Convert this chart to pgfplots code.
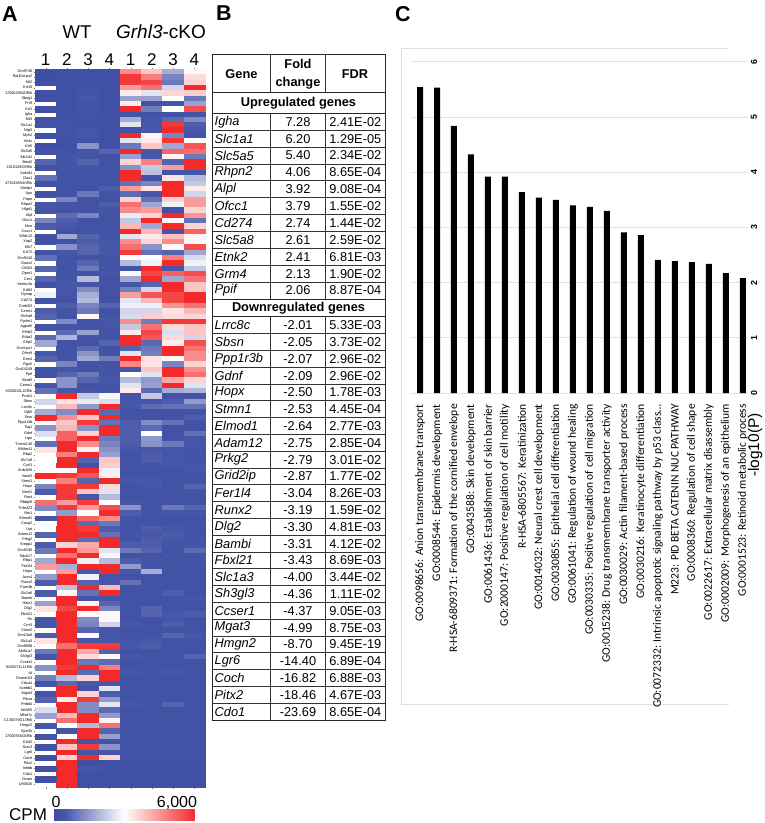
\documentclass[border=0pt]{standalone}
\usepackage{fontspec}
\setmainfont{Liberation Sans}
\newfontfamily\calibri{Carlito}
\usepackage{pgfplots}
\pgfplotsset{compat=1.18}
\pgfplotsset{colormap={cpm}{rgb255(0)=(60,78,163) rgb255(5)=(70,86,168) rgb255(30)=(255,255,255) rgb255(60)=(244,42,42)}}
\newcommand{\fs}[1]{\fontsize{#1}{#1}\selectfont}
\begin{document}
\begin{tikzpicture}[x=1pt,y=-1pt]
\path[use as bounding box] (0,0) rectangle (765,823);

% panel letters
\node[anchor=base west,inner sep=0pt,font=\fs{21.5}\bfseries] at (2,21) {A};
\node[anchor=base west,inner sep=0pt,font=\fs{21.5}\bfseries] at (216,20) {B};
\node[anchor=base west,inner sep=0pt,font=\fs{21.5}\bfseries] at (395,21) {C};

% panel A: heatmap, values in hundreds of CPM
\node[anchor=base,inner sep=0pt,font=\fs{18.5}] at (77,38) {WT};
\node[anchor=base,inner sep=0pt,font=\fs{19}] at (161,38) {\textit{Grhl3}-cKO};
\begin{axis}[
    at={(35pt,-787pt)},
    anchor=south west,
    scale only axis,
    width=170pt,
    height=718pt,
    xmin=-0.5, xmax=7.5,
    ymin=-0.5, ymax=134.5,
    y dir=reverse,
    colormap name=cpm,
    point meta min=0, point meta max=60,
    axis line style={draw=none},
    tick align=outside,
    major tick length=1.5pt,
    xtick={0,...,7},
    xticklabels={1,2,3,4,1,2,3,4},
    xticklabel pos=top,
    xticklabel style={font=\fs{17},inner sep=2pt},
    ytick={0,...,134},
    yticklabel style={font=\fs{3.8},inner sep=1pt},
    yticklabels={Gm9740,Rpl10a-ps2,Mt2,Krt10,1700029N20Rik,Sbsg1,Prr9,Krt1,Igha,Mt3,Slc1a1,Nrg3,Myh2,Xlr4c,Krt5,Slc5a5,Akr1d1,Best2,2010109I03Rik,Ankrd1,Oas1,4732456N10Rik,Morlp1,Upx,Papn,Rhpn2,Hlgd1,Alpl,Ofcc1,Mxn,Cxxc1,Wfdc12,Xirp2,Klk7,Krt72,Gm9416,Duox2,Chi3l4,Dpm1,Cer1,Serinc3a,Krt84,Dynap,Cd274,Creb3l3,Cerm1,Slc5a8,Pydrn1,Agpat5,Efnb2,Edar2,Sfrp2,Gm4-ps1,Dhrs9,Grm4,Rgs5,Gm24249,Ppif,Kbrd3,Ceam1,9330015L22Rik,Pcsk1,Sbsn,Lrrc8c,Gjb5,Stsn,Ppp1r3b,Tsg1,Gdnf,Lipn,Tmem140,Bhlhe41,Rbp2,Slc7a8,Cyrl1,Ankrd26,Vash2,Stmn1,Hopx,Nmrl1,Ranl,Rbbp8l,Tnfrsf23,Ntn1,Elmod1,Casp2,Lipi,Adam12,Prkg2,Srepp1,Gm6336,Sdc6c7,Rbp1,Fer1l4,Hnpn,Acrv4,Runx2,Fam3b,Slc2a6,Bambi,Helz1,Dlg2,Fbxl21,Ylc,Crrr3,Clam2,Gm13e8,Slc1a3,Gm9898,Aldh1a7,Sh3gl3,Ccser1,9430071L11Rik,Ivl,Dnase1l3,Cdca4,Scebb1,Mgat3,Pikza,Prtbd4,Wdr55,Mfsd7c,C130079G13Rik,Hmgn2,Sprr2k,1700055N04Rik,Krt42,Scrc3,Lgr6,Coch,Pitx2,Inhbb,Cdo1,Ocam,U90926},
    colorbar horizontal,
    colorbar style={
        at={(parent axis.south west)},
        anchor=north west,
        xshift=18pt, yshift=-14pt,
        width=142pt, height=11pt,
        xtick=\empty, ytick=\empty,
        axis line style={draw=none},
    },
]
\addplot[scatter, only marks, mark=square*, mark size=1pt, point meta=explicit,
    scatter/use mapped color={draw=mapped color,fill=mapped color},
    mark options={xscale=10.625,yscale=2.66,line width=0.1pt}]
    table[row sep=\\, header=false, x expr={mod(\coordindex,8)}, y expr={floor(\coordindex/8)}, meta index=0] {
2\\2\\2\\2\\46\\38\\18\\31\\
1\\3\\2\\2\\58\\48\\12\\35\\
2\\2\\2\\2\\58\\56\\10\\36\\
2\\2\\3\\2\\44\\50\\24\\60\\
2\\2\\4\\2\\33\\26\\36\\37\\
2\\2\\5\\2\\16\\16\\30\\10\\
2\\2\\3\\2\\33\\3\\4\\16\\
2\\2\\4\\2\\60\\11\\30\\55\\
2\\2\\3\\2\\4\\3\\3\\4\\
3\\3\\3\\2\\18\\5\\8\\13\\
3\\3\\2\\2\\26\\5\\58\\6\\
3\\3\\4\\2\\3\\5\\60\\5\\
3\\3\\5\\2\\60\\31\\12\\3\\
2\\3\\3\\2\\26\\33\\58\\31\\
2\\2\\14\\2\\10\\38\\17\\54\\
8\\3\\4\\7\\60\\5\\52\\50\\
4\\4\\4\\3\\16\\5\\32\\10\\
7\\4\\7\\3\\36\\48\\7\\60\\
3\\4\\4\\3\\14\\22\\44\\60\\
3\\4\\3\\3\\60\\21\\4\\4\\
6\\3\\3\\3\\60\\3\\34\\20\\
9\\3\\3\\3\\9\\12\\60\\22\\
3\\3\\3\\6\\44\\34\\60\\33\\
3\\3\\10\\3\\8\\5\\60\\24\\
3\\12\\3\\3\\36\\9\\36\\44\\
5\\4\\3\\6\\50\\17\\28\\44\\
4\\3\\3\\4\\46\\44\\3\\36\\
4\\8\\12\\3\\27\\36\\60\\45\\
12\\6\\3\\3\\22\\60\\31\\9\\
6\\5\\3\\3\\40\\17\\60\\36\\
6\\3\\3\\4\\60\\40\\4\\52\\
3\\17\\7\\3\\26\\33\\39\\32\\
3\\3\\6\\5\\46\\36\\46\\29\\
3\\14\\7\\5\\50\\14\\31\\55\\
3\\5\\7\\5\\58\\9\\7\\17\\
3\\3\\3\\3\\30\\30\\48\\25\\
9\\4\\7\\3\\20\\28\\60\\28\\
3\\3\\10\\3\\4\\60\\5\\22\\
7\\4\\3\\5\\31\\56\\52\\55\\
7\\4\\20\\3\\17\\60\\17\\50\\
3\\5\\4\\3\\5\\7\\60\\38\\
3\\5\\13\\3\\11\\24\\60\\38\\
28\\4\\18\\3\\44\\54\\56\\60\\
20\\3\\20\\3\\26\\40\\56\\60\\
3\\6\\12\\7\\28\\28\\45\\50\\
3\\4\\10\\3\\24\\24\\34\\40\\
6\\3\\31\\4\\25\\37\\35\\36\\
7\\13\\3\\5\\46\\11\\58\\58\\
6\\4\\4\\4\\22\\50\\35\\38\\
4\\8\\16\\3\\33\\56\\25\\38\\
8\\19\\4\\4\\60\\54\\35\\24\\
5\\3\\3\\7\\60\\8\\33\\55\\
17\\3\\8\\3\\7\\10\\60\\50\\
5\\3\\14\\3\\26\\11\\60\\46\\
14\\3\\17\\11\\60\\34\\31\\46\\
7\\12\\3\\4\\47\\34\\12\\36\\
5\\5\\3\\4\\4\\38\\60\\46\\
3\\7\\10\\4\\30\\26\\60\\50\\
3\\14\\7\\5\\20\\15\\42\\36\\
12\\14\\3\\4\\26\\16\\60\\26\\
5\\5\\5\\4\\33\\8\\18\\19\\
9\\60\\22\\29\\4\\22\\3\\3\\
60\\34\\27\\25\\5\\5\\6\\15\\
24\\40\\15\\60\\5\\8\\9\\9\\
18\\13\\60\\8\\3\\3\\3\\3\\
6\\46\\38\\60\\4\\3\\3\\6\\
60\\38\\58\\9\\6\\13\\9\\3\\
14\\40\\14\\60\\6\\8\\3\\3\\
20\\52\\36\\60\\6\\30\\3\\9\\
25\\52\\60\\10\\6\\15\\3\\5\\
54\\60\\46\\12\\6\\14\\10\\5\\
9\\60\\32\\14\\5\\5\\5\\4\\
34\\48\\60\\16\\3\\6\\4\\4\\
8\\60\\7\\38\\3\\6\\5\\3\\
30\\60\\3\\37\\4\\4\\5\\5\\
31\\31\\60\\28\\3\\3\\3\\5\\
26\\58\\54\\32\\3\\3\\3\\3\\
60\\48\\7\\60\\5\\5\\3\\3\\
12\\58\\58\\35\\3\\5\\3\\7\\
15\\58\\38\\26\\3\\3\\3\\4\\
6\\58\\5\\20\\3\\3\\3\\3\\
36\\44\\58\\30\\5\\3\\3\\3\\
50\\58\\44\\55\\14\\3\\10\\7\\
13\\15\\31\\60\\6\\3\\5\\5\\
7\\60\\52\\46\\3\\3\\3\\3\\
5\\60\\8\\10\\3\\3\\3\\4\\
30\\60\\58\\6\\3\\6\\5\\3\\
46\\60\\60\\9\\4\\5\\6\\3\\
7\\60\\8\\60\\3\\6\\5\\4\\
6\\36\\42\\60\\6\\6\\4\\4\\
33\\60\\44\\26\\10\\7\\3\\8\\
10\\50\\60\\31\\3\\3\\3\\4\\
17\\60\\28\\20\\6\\4\\3\\4\\
27\\18\\60\\60\\15\\4\\3\\3\\
44\\44\\5\\60\\5\\18\\3\\3\\
5\\60\\28\\5\\3\\3\\3\\3\\
15\\60\\7\\5\\9\\3\\3\\3\\
6\\21\\60\\40\\3\\3\\3\\3\\
17\\31\\9\\60\\3\\3\\6\\3\\
6\\60\\4\\5\\3\\3\\3\\5\\
16\\60\\32\\7\\3\\3\\3\\3\\
22\\56\\60\\12\\3\\7\\3\\3\\
34\\60\\31\\31\\3\\7\\5\\6\\
5\\60\\13\\31\\3\\3\\5\\3\\
15\\60\\12\\24\\5\\3\\6\\3\\
5\\60\\7\\5\\3\\3\\3\\3\\
24\\60\\31\\5\\4\\3\\7\\5\\
6\\60\\5\\5\\4\\5\\3\\3\\
34\\50\\58\\58\\5\\6\\3\\3\\
14\\60\\42\\7\\3\\3\\3\\3\\
10\\60\\35\\31\\5\\3\\3\\7\\
5\\60\\10\\8\\3\\3\\3\\3\\
15\\58\\60\\48\\3\\3\\3\\3\\
14\\60\\8\\60\\5\\3\\5\\3\\
11\\20\\36\\60\\3\\3\\3\\3\\
60\\8\\5\\5\\4\\3\\3\\3\\
4\\60\\4\\26\\3\\3\\3\\3\\
4\\60\\36\\6\\3\\4\\3\\3\\
40\\33\\58\\15\\3\\3\\3\\3\\
7\\60\\13\\26\\5\\3\\7\\3\\
6\\60\\13\\8\\3\\3\\3\\3\\
25\\40\\60\\15\\3\\3\\3\\3\\
16\\50\\60\\32\\3\\4\\3\\3\\
60\\30\\20\\50\\3\\3\\3\\3\\
5\\4\\60\\7\\3\\3\\3\\3\\
8\\30\\60\\16\\4\\3\\3\\3\\
4\\60\\4\\4\\3\\3\\3\\3\\
24\\38\\58\\14\\3\\3\\3\\3\\
3\\60\\4\\5\\3\\3\\3\\3\\
28\\36\\60\\36\\3\\3\\3\\3\\
2\\60\\2\\2\\2\\2\\2\\2\\
2\\60\\5\\3\\2\\2\\2\\2\\
2\\60\\2\\2\\2\\2\\2\\2\\
2\\60\\2\\2\\2\\2\\2\\2\\
2\\60\\2\\2\\2\\2\\2\\2\\
};
\end{axis}
\node[anchor=base,inner sep=0pt,font=\fs{16}] at (56,807) {0};
\node[anchor=base,inner sep=0pt,font=\fs{16}] at (177,807) {6,000};
\node[anchor=base west,inner sep=0pt,font=\fs{17}] at (9,820.5) {CPM};

% panel B: table
\draw[line width=0.8pt,black!85] (212.3,54) rectangle (385,720);
\foreach \yy in {92.3,113.3,299,316.8} \draw[line width=0.8pt,black!85] (212.3,\yy) -- (385,\yy);
\foreach \i in {1,...,10} \draw[line width=0.7pt,black!80] (212.3,113.3+\i*16.88) -- (385,113.3+\i*16.88);
\foreach \i in {1,...,23} \draw[line width=0.7pt,black!80] (212.3,316.8+\i*16.8) -- (385,316.8+\i*16.8);
\foreach \xx in {270.7,325.2} {
    \draw[line width=0.7pt,black!80] (\xx,54) -- (\xx,92.3);
    \draw[line width=0.7pt,black!80] (\xx,113.3) -- (\xx,299);
    \draw[line width=0.7pt,black!80] (\xx,316.8) -- (\xx,720);
}
\node[font=\fs{12.8}\bfseries] at (241.5,74) {Gene};
\node[font=\fs{12.8}\bfseries,align=center,text width=54pt,inner sep=0pt] at (298,74) {Fold\\[5.5pt]change};
\node[font=\fs{12.8}\bfseries] at (355,74) {FDR};
\node[font=\fs{12.8}\bfseries] at (298.5,103) {Upregulated genes};
\node[font=\fs{12.8}\bfseries] at (298.5,308) {Downregulated genes};
\foreach [count=\i] \g/\f/\q in {Igha/7.28/2.41E-02,Slc1a1/6.20/1.29E-05,Slc5a5/5.40/2.34E-02,Rhpn2/4.06/8.65E-04,Alpl/3.92/9.08E-04,Ofcc1/3.79/1.55E-02,Cd274/2.74/1.44E-02,Slc5a8/2.61/2.59E-02,Etnk2/2.41/6.81E-03,Grm4/2.13/1.90E-02,Ppif/2.06/8.87E-04} {
    \node[anchor=west,inner sep=0pt,font=\fs{12.8}\itshape] at (214.5,113.3+\i*16.88-8.44) {\g};
    \node[font=\fs{12.8},inner sep=0pt] at (298,113.3+\i*16.88-8.44) {\f};
    \node[font=\fs{12.8},inner sep=0pt] at (355.3,113.3+\i*16.88-8.44) {\q};
}
\foreach [count=\i] \g/\f/\q in {Lrrc8c/-2.01/5.33E-03,Sbsn/-2.05/3.73E-02,Ppp1r3b/-2.07/2.96E-02,Gdnf/-2.09/2.96E-02,Hopx/-2.50/1.78E-03,Stmn1/-2.53/4.45E-04,Elmod1/-2.64/2.77E-03,Adam12/-2.75/2.85E-04,Prkg2/-2.79/3.01E-02,Grid2ip/-2.87/1.77E-02,Fer1l4/-3.04/8.26E-03,Runx2/-3.19/1.59E-02,Dlg2/-3.30/4.81E-03,Bambi/-3.31/4.12E-02,Fbxl21/-3.43/8.69E-03,Slc1a3/-4.00/3.44E-02,Sh3gl3/-4.36/1.11E-02,Ccser1/-4.37/9.05E-03,Mgat3/-4.99/8.75E-03,Hmgn2/-8.70/9.45E-19,Lgr6/-14.40/6.89E-04,Coch/-16.82/6.88E-03,Pitx2/-18.46/4.67E-03,Cdo1/-23.69/8.65E-04} {
    \node[anchor=west,inner sep=0pt,font=\fs{12.8}\itshape] at (214.5,316.8+\i*16.8-8.4) {\g};
    \node[font=\fs{12.8},inner sep=0pt] at (298,316.8+\i*16.8-8.4) {\f};
    \node[font=\fs{12.8},inner sep=0pt] at (355.3,316.8+\i*16.8-8.4) {\q};
}

% panel C: enrichment bars
\draw[black!12,line width=0.8pt] (728,48.3) -- (401.7,48.3) -- (401.7,704.8) -- (729,704.8);
\begin{axis}[
    at={(411pt,-393pt)},
    anchor=south west,
    scale only axis,
    width=337pt,
    height=331.3pt,
    xmin=-0.53, xmax=19.3,
    ymin=0, ymax=6,
    ybar,
    bar width=6pt,
    axis line style={draw=none},
    major tick length=0pt,
    ymajorgrids=true,
    grid style={black!12,line width=0.7pt},
    ytick={0,1,2,3,4,5,6},
    yticklabel pos=right,
    yticklabel style={rotate=90,anchor=center,font=\fs{8.8}\bfseries,yshift=-6pt,
        /pgf/number format/assume math mode=true},
    xtick={0,...,19},
    xticklabels={GO:0098656: Anion transmembrane transport,GO:0008544: Epidermis development,R-HSA-6809371: Formation of the cornified envelope,GO:0043588: Skin development,GO:0061436: Establishment of skin barrier,GO:2000147: Positive regulation of cell motility,R-HSA-6805567: Keratinization,GO:0014032: Neural crest cell development,GO:0030855: Epithelial cell differentiation,GO:0061041: Regulation of wound healing,GO:0030335: Positive regulation of cell migration,GO:0015238: Drug transmembrane transporter activity,GO:0030029: Actin filament-based process,GO:0030216: Keratinocyte differentiation,GO:0072332: Intrinsic apoptotic signaling pathway by p53 class\ldots,M223: PID BETA CATENIN NUC PATHWAY,GO:0008360: Regulation of cell shape,GO:0022617: Extracellular matrix disassembly,GO:0002009: Morphogenesis of an epithelium,GO:0001523: Retinoid metabolic process},
    xticklabel style={rotate=90,anchor=east,inner sep=0pt,xshift=-11pt,font=\calibri\fs{11.55}},
]
\addplot[fill=black,draw=none] coordinates {
    (0,5.54)(1,5.53)(2,4.84)(3,4.32)(4,3.92)(5,3.92)(6,3.64)(7,3.54)(8,3.50)(9,3.40)
    (10,3.37)(11,3.30)(12,2.91)(13,2.86)(14,2.41)(15,2.39)(16,2.37)(17,2.34)(18,2.17)(19,2.08)
};
\end{axis}
\node[rotate=90,inner sep=0pt,font=\fs{15.5}] at (755,445) {-log10(P)};
\end{tikzpicture}
\end{document}
